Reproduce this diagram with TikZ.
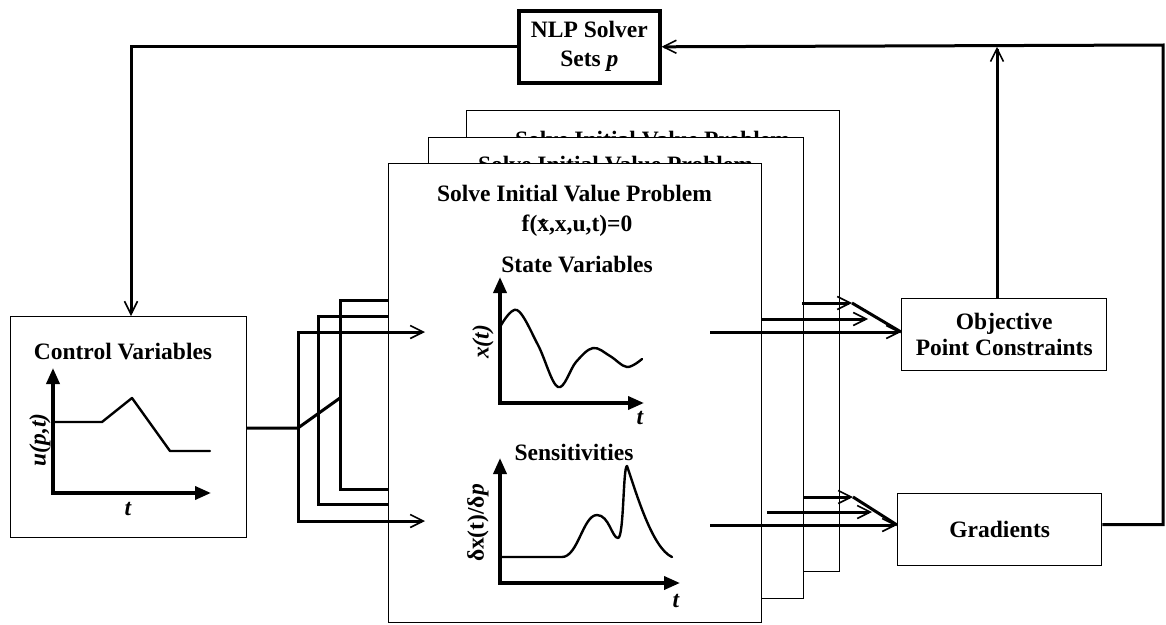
\documentclass[tikz,border=0pt]{standalone}
\usepackage{fontspec}
\setmainfont{Liberation Serif}
\usetikzlibrary{arrows.meta}

% bold serif used for every label
\newcommand\diagfont{\fontsize{23.5}{26}\selectfont\bfseries}
% x with a dot over it (time derivative)
\newcommand\xdot{\ooalign{x\cr\hidewidth\raisebox{0.40em}{.}\hidewidth\cr}}

\begin{document}
\begin{tikzpicture}[x=1pt,y=-1pt,
  blockbox/.style={draw, line width=1.4pt, fill=white, inner sep=0pt, anchor=north west},
  txt/.style={font=\diagfont, inner sep=0pt},
  wire/.style={line width=3pt},
  feedarrow/.style={line width=3pt, -{Straight Barb[length=13pt,width=13pt,line width=1.6pt]}},
  plotaxes/.style={line width=3.6pt, {Triangle[length=16pt,width=13pt]}-{Triangle[length=16pt,width=13pt]}},
  curveline/.style={line width=2.4pt, line join=round, line cap=round}]

\fill[white] (0,0) rectangle (1166,624);
\useasboundingbox (0,0) rectangle (1166,624);

% ---- stack of initial value problems (back to front) ----
\node[blockbox, minimum width=373pt, minimum height=461pt] (ivpC) at (466,110) {};
\node[txt, anchor=base] (titleC) at (652.5,147) {Solve Initial Value Problem};
\node[blockbox, minimum width=375pt, minimum height=461pt] (ivpB) at (428,137) {};
\node[txt, anchor=base] (titleB) at (615.5,172) {Solve Initial Value Problem};
\node[blockbox, minimum width=373pt, minimum height=459pt] (ivpA) at (388,163) {};
\node[txt, anchor=base] (titleA) at (574.5,201) {Solve Initial Value Problem};
\node[txt] (dae) at (577,226) {f(\xdot,x,u,t)=0};

% state variables plot
\node[txt] (stateLbl) at (577,265) {State Variables};
\draw[plotaxes] (500,277) -- (500,403) -- (644,403);
\draw[curveline] plot[smooth, tension=0.6] coordinates
  {(500,327) (517,310) (538,345) (558,387) (576,362) (593,348) (610,356) (627,367) (642,359)};
\node[txt, rotate=90, font=\diagfont\itshape] (xLbl) at (483,342) {x(t)};
\node[txt, font=\diagfont\itshape] (tState) at (640,418) {t};

% sensitivities plot
\node[txt] (sensLbl) at (574,452) {Sensitivities};
\draw[plotaxes] (500,458) -- (500,583) -- (680,583);
\draw[curveline] (500,557) -- (562,557)
  .. controls (578,557) and (583,515) .. (597,515)
  .. controls (609,515) and (612,538) .. (618,538)
  .. controls (624,538) and (623,466) .. (627,466)
  .. controls (636,492) and (652,548) .. (672,557);
\node[txt, rotate=90] (dLbl) at (478,523) {δx(t)/δ\textit{p}};
\node[txt, font=\diagfont\itshape] (tSens) at (676,601) {t};

% ---- control variables ----
\node[blockbox, minimum width=236pt, minimum height=221pt] (ctrl) at (10,316) {};
\node[txt] (ctrlLbl) at (123,352) {Control Variables};
\draw[plotaxes] (53,368) -- (53,493) -- (211,493);
\draw[curveline] (53,422) -- (102,422) -- (132,398) -- (170,451) -- (210,451);
\node[txt, rotate=90, font=\diagfont\itshape] (uLbl) at (40,440) {u(p,t)};
\node[txt, font=\diagfont\itshape] (tCtrl) at (128,509) {t};

% ---- NLP solver and result boxes ----
\node[draw, line width=3.6pt, fill=white, inner sep=0pt, anchor=north west,
      minimum width=141pt, minimum height=72pt, align=center, font=\diagfont]
      (nlp) at (517,9) {NLP Solver\\[3pt]Sets \textit{p}};
\node[blockbox, minimum width=205pt, minimum height=72pt, align=center, font=\diagfont]
      (obj) at (901,298) {Objective\\Point Constraints};
\node[blockbox, minimum width=204pt, minimum height=72pt, font=\diagfont]
      (grad) at (897,493) {Gradients};

% ---- connection points ----
\coordinate (ctrlIn)  at (131,316);
\coordinate (ctrlOut) at (246,428);
\coordinate (jA) at (298,428);
\coordinate (jC) at (340,398);
\coordinate (stateIn) at (425,332);
\coordinate (sensIn)  at (425,521);
\coordinate (bTop) at (388,316);
\coordinate (bBot) at (388,504);
\coordinate (cTop) at (388,300);
\coordinate (cBot) at (388,489);

\coordinate (oA) at (710,332);
\coordinate (oB) at (762,319);
\coordinate (oBtip) at (868,319);
\coordinate (oC) at (802,303);
\coordinate (oCtip) at (852,303);
\coordinate (gA) at (710,525);
\coordinate (gB) at (767,512);
\coordinate (gBtip) at (872,512);
\coordinate (gC) at (804,497);
\coordinate (gCtip) at (853,497);

\coordinate (objUp) at (997,298);
\coordinate (edge)  at (1163,45);

% ---- connectors ----
\draw[feedarrow] (nlp.west) -| (ctrlIn);
\draw[wire] (ctrlOut) -- (jA) -- (jC);
\draw[feedarrow] (jA) |- (stateIn);
\draw[feedarrow] (jA) |- (sensIn);
\draw[wire] (bTop) -- ++(-70,0) |- (bBot);
\draw[wire] (cTop) -- ++(-48,0) |- (cBot);

\draw[feedarrow] (oA) -- (oA -| obj.west);
\draw[feedarrow] (oB) -- (oBtip);
\draw[feedarrow] (oC) -- (oCtip);
\draw[wire] (oCtip) -- (oA -| obj.west);

\draw[feedarrow] (gA) -- (gA -| grad.west);
\draw[feedarrow] (gB) -- (gBtip);
\draw[feedarrow] (gC) -- (gCtip);
\draw[wire] (gCtip) -- (gA -| grad.west);

\draw[feedarrow] (objUp) -- (objUp |- nlp.east);
\draw[feedarrow] ([yshift=5pt]grad.east) -| (edge) -- (nlp.east);

\end{tikzpicture}
\end{document}
